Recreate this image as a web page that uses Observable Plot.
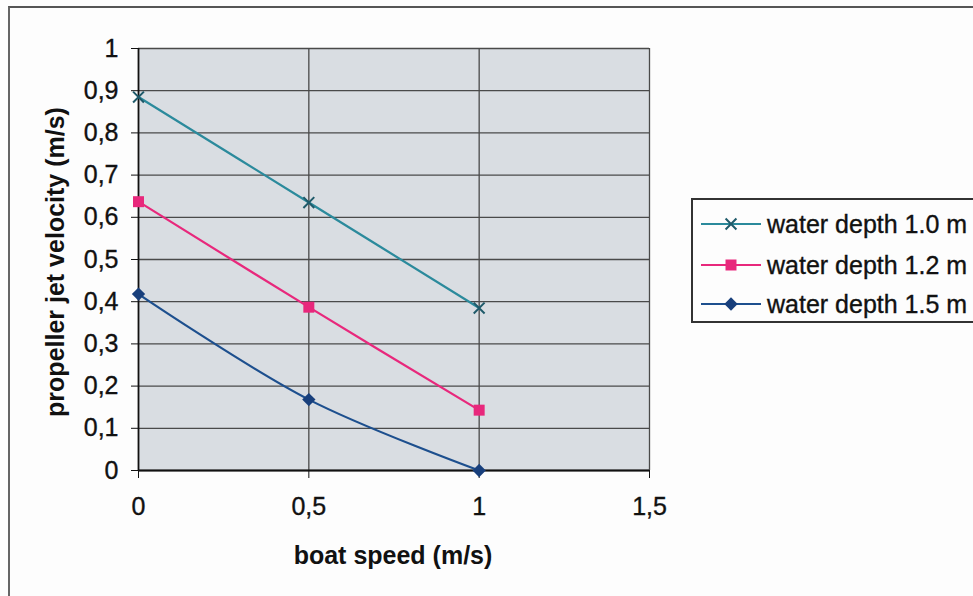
<!DOCTYPE html>
<html><head><meta charset="utf-8">
<script src="https://cdn.jsdelivr.net/npm/d3@7"></script>
<script src="https://cdn.jsdelivr.net/npm/@observablehq/plot@0.6"></script>
<style>
body{margin:0;background:#fff;font-family:"Liberation Sans",Arial,sans-serif;}
#wrap{position:relative;width:973px;height:596px;overflow:hidden;background:#fdfdfd}
#wrap svg.chart{position:absolute;left:0;top:0}
#wrap svg.chart g[aria-label$="tick label"] text{stroke:#111;stroke-width:0.35px}
#outer{position:absolute;left:8px;top:6px;width:1100px;height:800px;border-left:2px solid #666;border-top:2px solid #555;}
.lab{position:absolute;font-weight:bold;font-size:25px;color:#111;white-space:nowrap}
#xlab{left:393px;top:555px;transform:translate(-50%,-50%)}
#ylab{left:55px;top:262px;transform:translate(-50%,-50%) rotate(-90deg)}
#legend{position:absolute;left:691px;top:198px;width:400px;height:121px;border:2px solid #333;background:#fdfdfd}
.lrow{position:absolute;left:0;height:40px;display:flex;align-items:center}
.lrow svg{width:68px;height:30px;margin-left:6px}
.lrow span{font-size:25px;color:#111;margin-left:0px;-webkit-text-stroke:0.35px #111}
</style></head><body><div id="wrap"><div id="outer"></div></div>
<script>
const speeds = [0, 0.5, 1];
const depth10 = [0.885, 0.635, 0.385];
const depth12 = [0.637, 0.387, 0.143];
const depth15 = [0.418, 0.168, 0.0];
const seriesNames = ["water depth 1.0 m", "water depth 1.2 m", "water depth 1.5 m"];
const seriesColors = ["#2b8a9c", "#e8287c", "#1d4f8e"];
const markerColors = ["#1f5a6a", "#e8287c", "#183f7c"];
const seriesSymbols = ["times", "square", "diamond2"];
const xTicks = [0, 0.5, 1, 1.5];
const yTicks = [0, 0.1, 0.2, 0.3, 0.4, 0.5, 0.6, 0.7, 0.8, 0.9, 1];
const xLabel = "boat speed (m/s)";
const yLabel = "propeller jet velocity (m/s)";

const seriesValues = [depth10, depth12, depth15];
const table = seriesValues.map((vals, i) => speeds.map((s, j) => ({speed: s, v: vals[j], series: seriesNames[i]})));
const fmt = d => d3.format("~g")(d).replace(".", ",");
const symR = [5, 6.2, 6];

const marks = [
  Plot.frame({fill: "#d9dde2", stroke: null}),
  Plot.gridY(yTicks, {stroke: "#4a4a4a", strokeOpacity: 1, strokeWidth: 1.3}),
  Plot.gridX([0.5, 1, 1.5], {stroke: "#4a4a4a", strokeOpacity: 1, strokeWidth: 1.3}),
  Plot.ruleX([0], {stroke: "#111", strokeWidth: 1.8}),
  Plot.ruleY([0], {stroke: "#111", strokeWidth: 1.8}),
  Plot.axisY(yTicks, {tickSize: 7, tickPadding: 13, tickFormat: fmt, label: null, fontSize: 25, stroke: "#111"}),
  Plot.axisX(xTicks, {tickSize: 8, tickPadding: 19, tickFormat: fmt, label: null, fontSize: 25, stroke: "#111"})
];
table.forEach((data, i) => {
  marks.push(Plot.line(data, {x: "speed", y: "v", stroke: seriesColors[i], strokeWidth: 2.2, curve: "catmull-rom"}));
  const isTimes = seriesSymbols[i] === "times";
  marks.push(Plot.dot(data, {x: "speed", y: "v", symbol: () => seriesSymbols[i], r: symR[i],
    fill: isTimes ? "none" : markerColors[i], stroke: isTimes ? markerColors[i] : "none", strokeWidth: isTimes ? 2 : 0}));
});

const chart = Plot.plot({
  width: 973, height: 596,
  marginLeft: 138, marginRight: 324, marginTop: 48, marginBottom: 126,
  x: {domain: [0, 1.5]},
  y: {domain: [0, 1]},
  style: {fontFamily: "Liberation Sans, Arial, sans-serif", color: "#111", background: "transparent", overflow: "visible"},
  marks
});
chart.classList.add("chart");
const wrap = document.getElementById("wrap");
wrap.appendChild(chart);

const xl = document.createElement("div"); xl.className = "lab"; xl.id = "xlab"; xl.textContent = xLabel; wrap.appendChild(xl);
const yl = document.createElement("div"); yl.className = "lab"; yl.id = "ylab"; yl.textContent = yLabel; wrap.appendChild(yl);

const legend = document.createElement("div"); legend.id = "legend";
const rowTops = [4, 45, 84];
seriesNames.forEach((name, i) => {
  const row = document.createElement("div"); row.className = "lrow"; row.style.top = rowTops[i] + "px";
  const svg = d3.create("svg").attr("viewBox", "0 0 68 30");
  svg.append("line").attr("x1", 2).attr("x2", 62).attr("y1", 15).attr("y2", 15).attr("stroke", seriesColors[i]).attr("stroke-width", 2.2);
  const isTimes = seriesSymbols[i] === "times";
  const st = {times: d3.symbolTimes, square: d3.symbolSquare, diamond2: d3.symbolDiamond2}[seriesSymbols[i]];
  svg.append("path").attr("transform", "translate(32,15)")
    .attr("d", d3.symbol(st, Math.PI * symR[i] * symR[i])())
    .attr("fill", isTimes ? "none" : markerColors[i]).attr("stroke", isTimes ? markerColors[i] : "none").attr("stroke-width", 2);
  row.appendChild(svg.node());
  const sp = document.createElement("span"); sp.textContent = name; row.appendChild(sp);
  legend.appendChild(row);
});
wrap.appendChild(legend);
</script></body></html>
